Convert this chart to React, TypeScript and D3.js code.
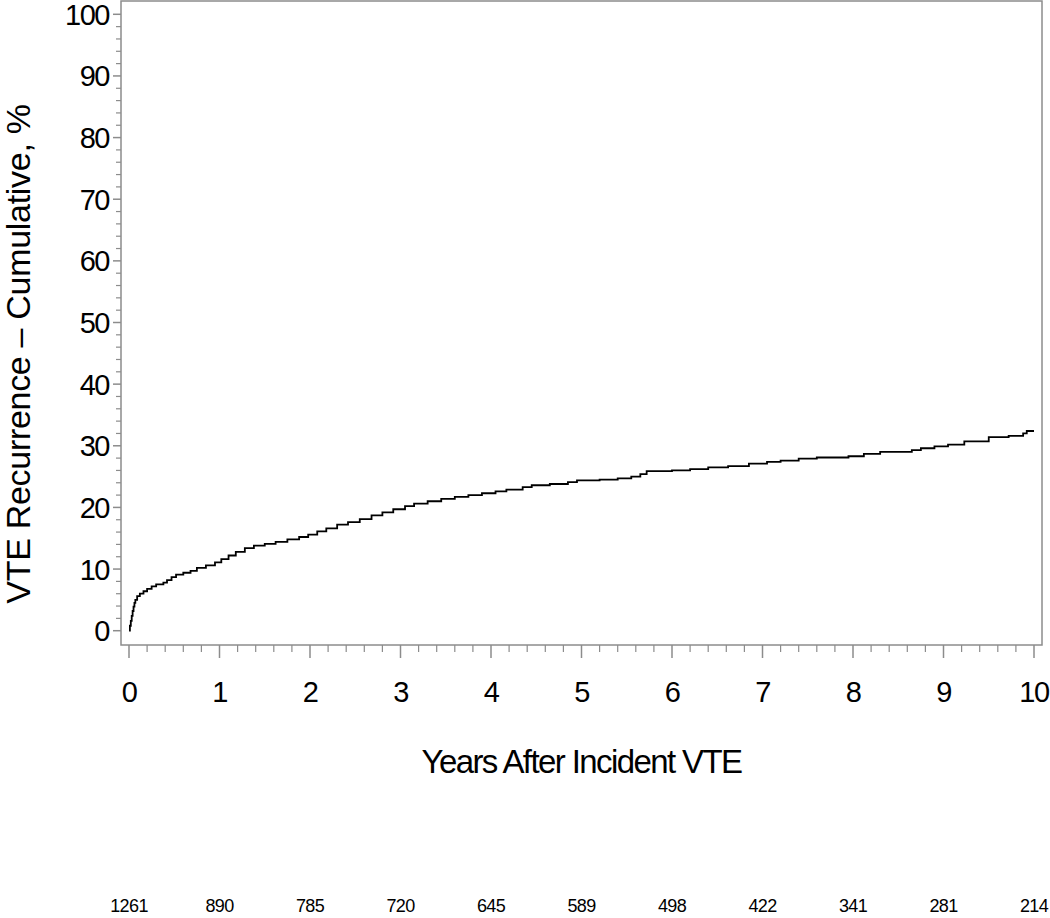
import React from 'react';
import * as d3 from 'd3';

// cumulative recurrence, step points
const years = [0, 0.01, 0.02, 0.03, 0.04, 0.05, 0.06, 0.07, 0.09, 0.12, 0.16, 0.2, 0.25, 0.3, 0.38, 0.42, 0.47, 0.52, 0.6, 0.68, 0.75, 0.85, 0.95, 1.02, 1.1, 1.18, 1.28, 1.38, 1.5, 1.62, 1.75, 1.88, 1.98, 2.08, 2.18, 2.3, 2.42, 2.55, 2.68, 2.8, 2.92, 3.05, 3.15, 3.3, 3.45, 3.6, 3.75, 3.9, 4.05, 4.17, 4.35, 4.45, 4.65, 4.85, 4.95, 5.2, 5.4, 5.55, 5.65, 5.72, 6.0, 6.2, 6.4, 6.62, 6.85, 7.05, 7.2, 7.4, 7.6, 7.95, 8.12, 8.3, 8.65, 8.75, 8.9, 9.05, 9.23, 9.5, 9.72, 9.88, 9.92, 10.0];
const cumPct = [0, 0.8, 1.6, 2.4, 3.2, 3.9, 4.5, 5.0, 5.6, 6.0, 6.4, 6.8, 7.2, 7.5, 7.8, 8.2, 8.7, 9.1, 9.4, 9.7, 10.2, 10.6, 11.1, 11.6, 12.2, 12.8, 13.4, 13.8, 14.1, 14.4, 14.8, 15.2, 15.6, 16.1, 16.6, 17.2, 17.6, 18.1, 18.7, 19.2, 19.7, 20.2, 20.6, 21.0, 21.4, 21.7, 22.0, 22.3, 22.6, 22.9, 23.3, 23.6, 23.8, 24.1, 24.4, 24.5, 24.7, 25.0, 25.4, 25.9, 26.0, 26.2, 26.5, 26.7, 27.1, 27.4, 27.6, 27.9, 28.1, 28.3, 28.7, 29.0, 29.3, 29.6, 29.9, 30.2, 30.7, 31.4, 31.6, 32.0, 32.4, 32.4];

const xTicks = [0, 1, 2, 3, 4, 5, 6, 7, 8, 9, 10];
const yTicks = [0, 10, 20, 30, 40, 50, 60, 70, 80, 90, 100];
const atRisk = ['1261', '890', '785', '720', '645', '589', '498', '422', '341', '281', '214'];

const W = 1050;
const H = 918;
const frame = { left: 121, top: 1, right: 1042, bottom: 645 };
const font = '"Liberation Sans", Arial, sans-serif';
const axisColor = '#8c8c8c';

export default function App() {
  const x = d3.scaleLinear().domain([0, 10]).range([129, 1034]);
  const y = d3.scaleLinear().domain([0, 100]).range([630.7, 14.3]);

  const pts: [number, number][] = years.map((t, i) => [t, cumPct[i]]);
  const line = d3
    .line<[number, number]>()
    .x(d => x(d[0]))
    .y(d => y(d[1]))
    .curve(d3.curveStepAfter);

  const xMinor = d3.range(0, 10.01, 0.2).filter(v => Math.abs(v - Math.round(v)) > 0.01);
  const yMinor = d3.range(0, 100.1, 2).filter(v => v % 10 !== 0);

  return (
    <svg width={W} height={H} style={{ position: 'absolute', left: 0, top: 0, background: '#fff' }}>
      {/* frame */}
      <rect
        x={frame.left}
        y={frame.top}
        width={frame.right - frame.left}
        height={frame.bottom - frame.top}
        fill="none"
        stroke={axisColor}
        strokeWidth={1.5}
      />

      {/* y axis */}
      {yTicks.map(v => (
        <g key={'y' + v}>
          <line x1={frame.left} x2={frame.left - 8} y1={y(v)} y2={y(v)} stroke={axisColor} strokeWidth={1.5} />
          <text
            x={109}
            y={y(v)}
            dy="0.36em"
            textAnchor="end"
            fontFamily={font}
            fontSize={29}
            letterSpacing={-1.5}
          >
            {v}
          </text>
        </g>
      ))}
      {yMinor.map(v => (
        <line key={'ym' + v} x1={frame.left} x2={frame.left - 5} y1={y(v)} y2={y(v)} stroke={axisColor} strokeWidth={1.2} />
      ))}

      {/* x axis */}
      {xTicks.map((v, i) => (
        <g key={'x' + v}>
          <line x1={x(v)} x2={x(v)} y1={frame.bottom} y2={frame.bottom + 13} stroke={axisColor} strokeWidth={1.5} />
          <text x={x(v)} y={702} textAnchor="middle" fontFamily={font} fontSize={29} letterSpacing={-1.5}>
            {v}
          </text>
          <text x={x(v)} y={912} textAnchor="middle" fontFamily={font} fontSize={18} letterSpacing={-0.6}>
            {atRisk[i]}
          </text>
        </g>
      ))}
      {xMinor.map(v => (
        <line key={'xm' + v} x1={x(v)} x2={x(v)} y1={frame.bottom} y2={frame.bottom + 7} stroke={axisColor} strokeWidth={1.2} />
      ))}

      {/* axis titles */}
      <text
        x={(frame.left + frame.right) / 2}
        y={773}
        textAnchor="middle"
        fontFamily={font}
        fontSize={33}
        letterSpacing={-1.6}
      >
        Years After Incident VTE
      </text>
      <text
        transform={`translate(30,354) rotate(-90)`}
        textAnchor="middle"
        fontFamily={font}
        fontSize={34}
        letterSpacing={-0.3}
      >
        VTE Recurrence – Cumulative, %
      </text>

      {/* KM curve */}
      <path d={line(pts) || ''} fill="none" stroke="#000" strokeWidth={1.8} />
    </svg>
  );
}
